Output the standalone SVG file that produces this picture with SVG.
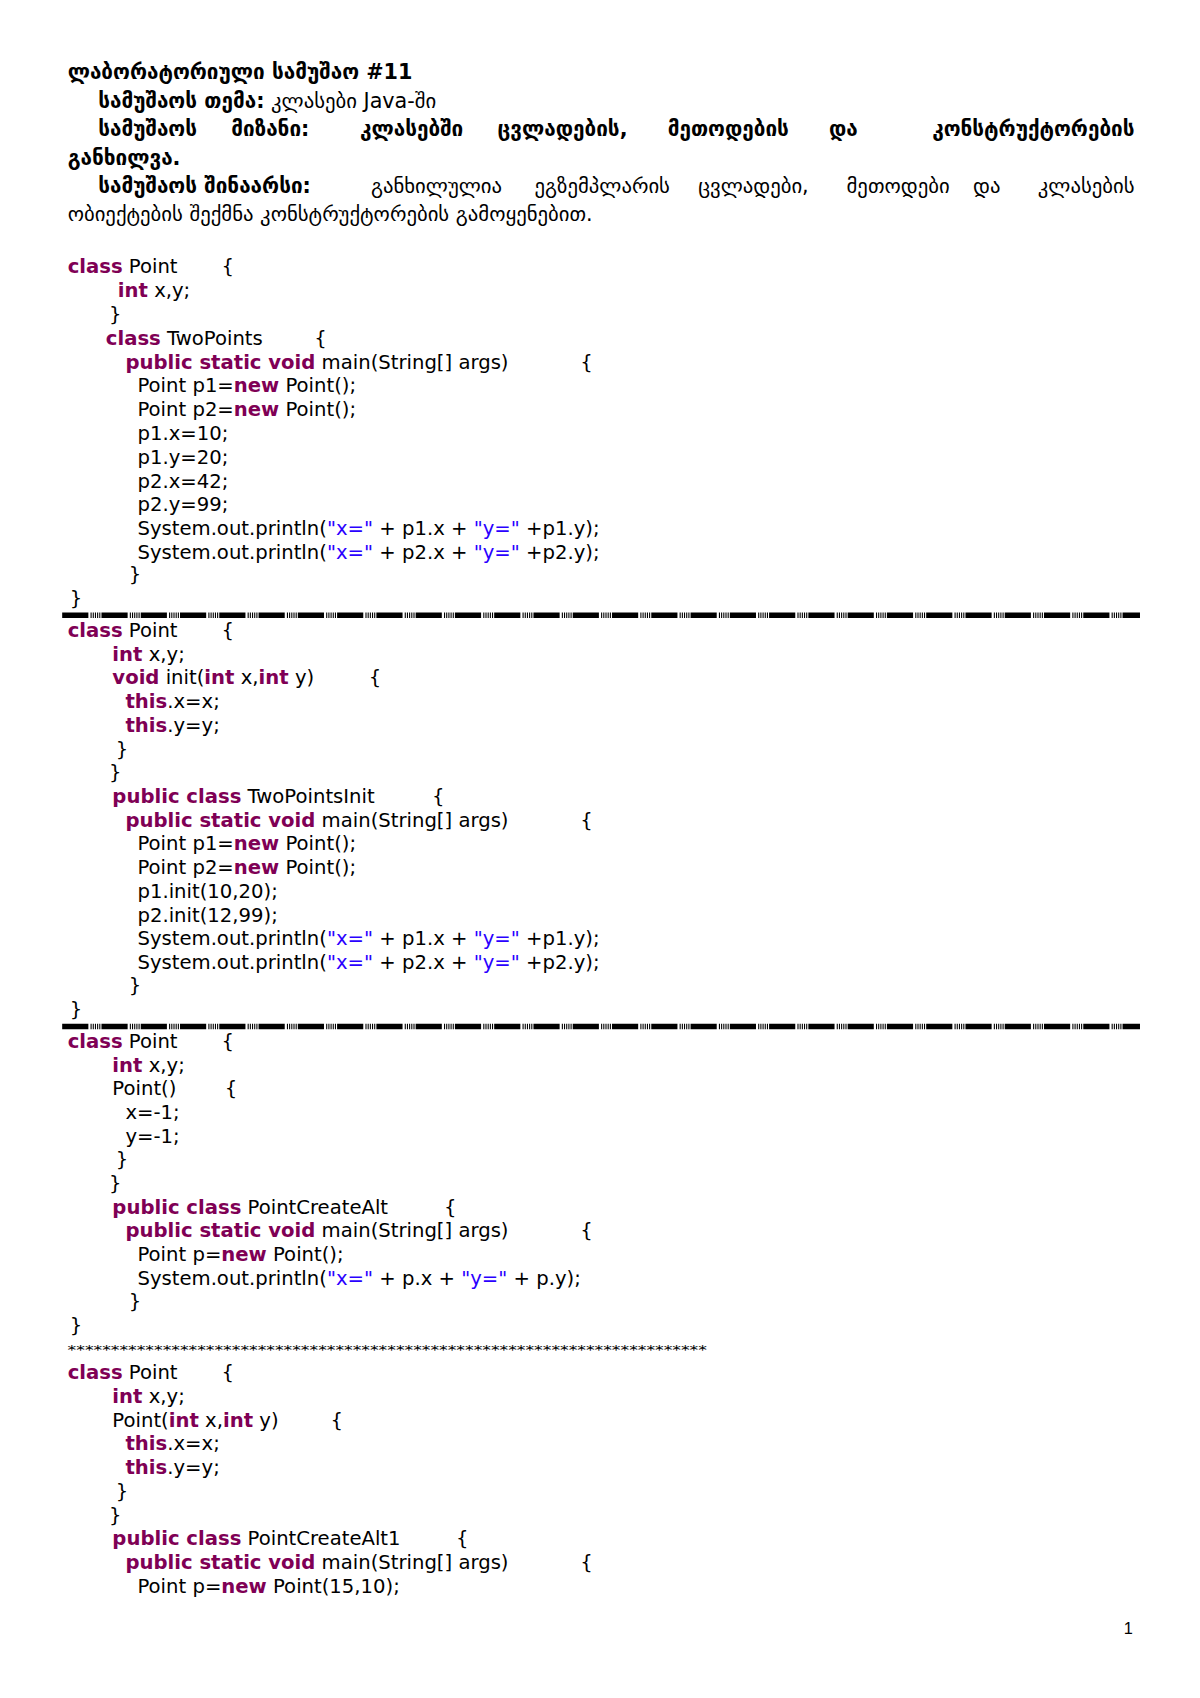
<svg xmlns="http://www.w3.org/2000/svg" width="1200" height="1698" viewBox="0 0 1200 1698">
<style>
.h{font-family:"DejaVu Sans",sans-serif;font-size:19px;fill:#000}
.b{font-weight:bold}
.c{font-family:"DejaVu Sans",sans-serif;font-size:18px;fill:#000}
.k{fill:#7f0055;font-weight:bold}
.s{fill:#2a00ff}
.sep{stroke:#000;stroke-width:5;stroke-dasharray:24 2 1 1 1 1 1 1 1 1 1 1}
</style>
<rect width="1200" height="1698" fill="#fff"/>
<g transform="scale(1.0909)">
<g id="header" class="h">
<text x="62" y="72" class="b">ლაბორატორიული სამუშაო #11</text>
<text x="90" y="99"><tspan class="b">სამუშაოს თემა:</tspan> კლასები  Java-ში</text>
<g class="b">
<text x="90" y="125">სამუშაოს</text>
<text x="212" y="125">მიზანი:</text>
<text x="330" y="125">კლასებში</text>
<text x="456" y="125">ცვლადების,</text>
<text x="612" y="125">მეთოდების</text>
<text x="760" y="125">და</text>
<text x="1040" y="125" text-anchor="end">კონსტრუქტორების</text>
</g>
<text x="62" y="151" class="b">განხილვა.</text>
<text x="90" y="177" class="b">სამუშაოს შინაარსი:</text>
<text x="340" y="177">განხილულია</text>
<text x="490" y="177">ეგზემპლარის</text>
<text x="640" y="177">ცვლადები,</text>
<text x="776" y="177">მეთოდები</text>
<text x="892" y="177">და</text>
<text x="1040" y="177" text-anchor="end">კლასების</text>
<text x="62" y="203">ობიექტების შექმნა კონსტრუქტორების გამოყენებით.</text>
</g>
<g id="code1" class="c">
<text x="62" y="250"><tspan class="k">class</tspan> Point</text><text x="203" y="250">{</text>
<text x="108" y="272"><tspan class="k">int</tspan> x,y;</text>
<text x="100" y="294">}</text>
<text x="97" y="316"><tspan class="k">class</tspan> TwoPoints</text><text x="288" y="316">{</text>
<text x="115" y="338"><tspan class="k">public static void</tspan> main(String[] args)</text><text x="532" y="338">{</text>
<text x="126" y="359">Point p1=<tspan class="k">new</tspan> Point();</text>
<text x="126" y="381">Point p2=<tspan class="k">new</tspan> Point();</text>
<text x="126" y="403">p1.x=10;</text>
<text x="126" y="425">p1.y=20;</text>
<text x="126" y="447">p2.x=42;</text>
<text x="126" y="468">p2.y=99;</text>
<text x="126" y="490">System.out.println(<tspan class="s">"x="</tspan> + p1.x + <tspan class="s">"y="</tspan> +p1.y);</text>
<text x="126" y="512">System.out.println(<tspan class="s">"x="</tspan> + p2.x + <tspan class="s">"y="</tspan> +p2.y);</text>
<text x="118" y="533">}</text>
<text x="64" y="555">}</text>
</g>
<g id="separators">
<line x1="57" y1="564" x2="1045" y2="564" class="sep"/>
<line x1="57" y1="941" x2="1045" y2="941" class="sep"/>
<text x="62" y="1241" font-family="DejaVu Sans,sans-serif" font-size="12" textLength="586" lengthAdjust="spacingAndGlyphs">**************************************************************************</text>
</g>
<g id="code2" class="c">
<text x="62" y="584"><tspan class="k">class</tspan> Point</text><text x="203" y="584">{</text>
<text x="103" y="606"><tspan class="k">int</tspan> x,y;</text>
<text x="103" y="627"><tspan class="k">void</tspan> init(<tspan class="k">int</tspan> x,<tspan class="k">int</tspan> y)</text><text x="338" y="627">{</text>
<text x="115" y="649"><tspan class="k">this</tspan>.x=x;</text>
<text x="115" y="671"><tspan class="k">this</tspan>.y=y;</text>
<text x="106" y="693">}</text>
<text x="100" y="714">}</text>
<text x="103" y="736"><tspan class="k">public class</tspan> TwoPointsInit</text><text x="396" y="736">{</text>
<text x="115" y="758"><tspan class="k">public static void</tspan> main(String[] args)</text><text x="532" y="758">{</text>
<text x="126" y="779">Point p1=<tspan class="k">new</tspan> Point();</text>
<text x="126" y="801">Point p2=<tspan class="k">new</tspan> Point();</text>
<text x="126" y="823">p1.init(10,20);</text>
<text x="126" y="845">p2.init(12,99);</text>
<text x="126" y="866">System.out.println(<tspan class="s">"x="</tspan> + p1.x + <tspan class="s">"y="</tspan> +p1.y);</text>
<text x="126" y="888">System.out.println(<tspan class="s">"x="</tspan> + p2.x + <tspan class="s">"y="</tspan> +p2.y);</text>
<text x="118" y="909">}</text>
<text x="64" y="931">}</text>
</g>
<g id="code3" class="c">
<text x="62" y="961"><tspan class="k">class</tspan> Point</text><text x="203" y="961">{</text>
<text x="103" y="983"><tspan class="k">int</tspan> x,y;</text>
<text x="103" y="1004">Point()</text><text x="206" y="1004">{</text>
<text x="115" y="1026">x=-1;</text>
<text x="115" y="1048">y=-1;</text>
<text x="106" y="1069">}</text>
<text x="100" y="1091">}</text>
<text x="103" y="1113"><tspan class="k">public class</tspan> PointCreateAlt</text><text x="407" y="1113">{</text>
<text x="115" y="1134"><tspan class="k">public static void</tspan> main(String[] args)</text><text x="532" y="1134">{</text>
<text x="126" y="1156">Point p=<tspan class="k">new</tspan> Point();</text>
<text x="126" y="1178">System.out.println(<tspan class="s">"x="</tspan> + p.x + <tspan class="s">"y="</tspan> + p.y);</text>
<text x="118" y="1199">}</text>
<text x="64" y="1221">}</text>
</g>
<g id="code4" class="c">
<text x="62" y="1264"><tspan class="k">class</tspan> Point</text><text x="203" y="1264">{</text>
<text x="103" y="1286"><tspan class="k">int</tspan> x,y;</text>
<text x="103" y="1308">Point(<tspan class="k">int</tspan> x,<tspan class="k">int</tspan> y)</text><text x="303" y="1308">{</text>
<text x="115" y="1329"><tspan class="k">this</tspan>.x=x;</text>
<text x="115" y="1351"><tspan class="k">this</tspan>.y=y;</text>
<text x="106" y="1373">}</text>
<text x="100" y="1395">}</text>
<text x="103" y="1416"><tspan class="k">public class</tspan> PointCreateAlt1</text><text x="418" y="1416">{</text>
<text x="115" y="1438"><tspan class="k">public static void</tspan> main(String[] args)</text><text x="532" y="1438">{</text>
<text x="126" y="1460">Point p=<tspan class="k">new</tspan> Point(15,10);</text>
</g>
<text id="pagenum" x="1030" y="1498" font-family="Liberation Sans,sans-serif" font-size="15">1</text>
</g>
</svg>
